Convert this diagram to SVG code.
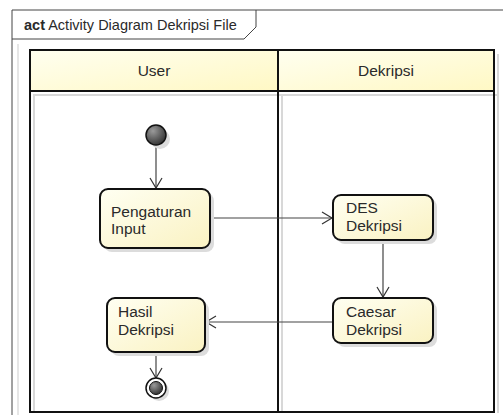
<svg xmlns="http://www.w3.org/2000/svg" width="503" height="415" viewBox="0 0 503 415">
  <defs>
    <linearGradient id="headFill" x1="0" y1="0" x2="1" y2="1">
      <stop offset="0" stop-color="#fffff0"/>
      <stop offset="1" stop-color="#fff8c4"/>
    </linearGradient>
    <linearGradient id="actFill" x1="0" y1="0" x2="1" y2="1">
      <stop offset="0" stop-color="#fffff2"/>
      <stop offset="1" stop-color="#faf2c2"/>
    </linearGradient>
    <radialGradient id="ballFill" cx="0.35" cy="0.3" r="0.8">
      <stop offset="0" stop-color="#9a9a9a"/>
      <stop offset="1" stop-color="#2a2a2a"/>
    </radialGradient>
    <marker id="open" markerWidth="14" markerHeight="14" refX="11" refY="7" orient="auto" markerUnits="userSpaceOnUse">
      <path d="M1,1 L11,7 L1,13" fill="none" stroke="#333" stroke-width="1.2"/>
    </marker>
    <style>
      .frame { fill: none; stroke: #444; stroke-width: 1; }
      .shadow { fill: none; stroke: #d8d8d8; stroke-width: 2; }
      .lane { fill: none; stroke: #111; stroke-width: 2; }
      .head { fill: url(#headFill); stroke: #111; stroke-width: 2; }
      .act { fill: url(#actFill); stroke: #111; stroke-width: 2; }
      .actShadow { fill: #dcdcdc; }
      .flow { fill: none; stroke: #444; stroke-width: 1.2; marker-end: url(#open); }
      text { font-family: "Liberation Sans", Arial, sans-serif; font-size: 15.5px; fill: #2a2a2a; }
      .title { font-size: 14.5px; }
      .bold { font-weight: bold; }
    </style>
  </defs>

  <rect width="503" height="415" fill="#fff"/>

  <!-- diagram frame with name tab -->
  <g id="frame">
    <path class="frame" d="M12,415 L12,10 L503,10"/>
    <path class="frame" d="M12,39 L244,39 L256,27 L256,10"/>
    <line x1="18" y1="44" x2="18" y2="415" stroke="#e6e6e6" stroke-width="2"/>
    <text x="24" y="30" class="title"><tspan class="bold">act</tspan> Activity Diagram Dekripsi File</text>
  </g>

  <!-- swimlanes -->
  <g id="lanes">
    <path class="shadow" d="M34,413 L34,94 M282,413 L282,94 M498,413 L498,54 M34,95 L498,95"/>
    <rect class="head" x="30" y="50" width="248" height="41"/>
    <rect class="head" x="278" y="50" width="216" height="41"/>
    <path class="lane" d="M30,91 L30,412 L494,412 L494,91 M278,91 L278,412"/>
    <text x="154" y="76" text-anchor="middle">User</text>
    <text x="386" y="76" text-anchor="middle">Dekripsi</text>
  </g>

  <!-- connectors -->
  <g id="connectors">
    <path class="flow" d="M156,146 L156,188"/>
    <path class="flow" d="M210,218 L332,218"/>
    <path class="flow" d="M383,240 L383,297"/>
    <path class="flow" d="M333,322 L206,322"/>
    <path class="flow" d="M156,352 L156,378"/>
  </g>

  <!-- initial node -->
  <g id="initial">
    <circle cx="160" cy="139" r="10" fill="#dcdcdc"/>
    <circle cx="156" cy="135" r="10" fill="url(#ballFill)" stroke="#111" stroke-width="1.5"/>
  </g>

  <g id="pengaturan-input">
    <rect class="actShadow" x="104" y="193" width="110" height="59" rx="8"/>
    <rect class="act" x="100" y="189" width="110" height="59" rx="8"/>
    <text x="111" y="217">Pengaturan</text>
    <text x="111" y="234">Input</text>
  </g>

  <g id="des-dekripsi">
    <rect class="actShadow" x="337" y="199" width="100" height="45" rx="8"/>
    <rect class="act" x="333" y="195" width="100" height="45" rx="8"/>
    <text x="346" y="213">DES</text>
    <text x="346" y="231">Dekripsi</text>
  </g>

  <g id="caesar-dekripsi">
    <rect class="actShadow" x="337" y="302" width="100" height="45" rx="8"/>
    <rect class="act" x="333" y="298" width="100" height="45" rx="8"/>
    <text x="346" y="317">Caesar</text>
    <text x="346" y="335">Dekripsi</text>
  </g>

  <g id="hasil-dekripsi">
    <rect class="actShadow" x="111" y="302" width="98" height="54" rx="8"/>
    <rect class="act" x="107" y="298" width="98" height="54" rx="8"/>
    <text x="118" y="317">Hasil</text>
    <text x="118" y="335">Dekripsi</text>
  </g>

  <!-- final node -->
  <g id="final">
    <circle cx="159" cy="391" r="10" fill="#dcdcdc"/>
    <circle cx="156" cy="388" r="10" fill="#fff" stroke="#111" stroke-width="1.5"/>
    <circle cx="156" cy="388" r="6.5" fill="url(#ballFill)" stroke="#111" stroke-width="1"/>
  </g>
</svg>
